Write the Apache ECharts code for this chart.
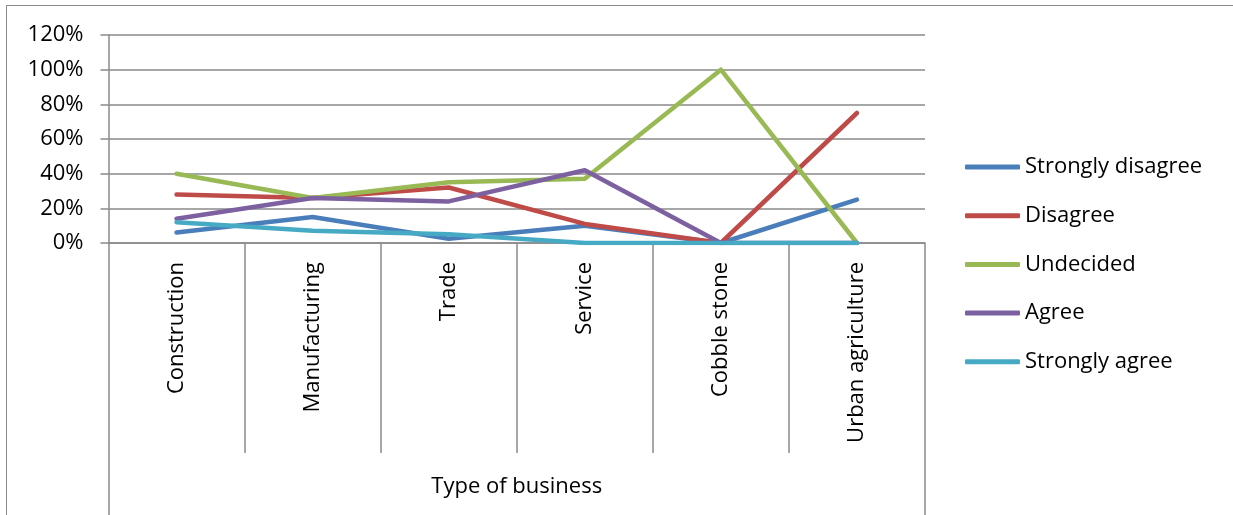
<!DOCTYPE html>
<html>
<head>
<meta charset="utf-8">
<script src="https://cdn.jsdelivr.net/npm/echarts@6/dist/echarts.min.js"></script>
<style>
  html, body { margin: 0; padding: 0; background: #fff; }
  #frame { position: absolute; left: 6px; top: 5px; width: 1300px; height: 600px; border: 1.5px solid #8a8a8a; box-sizing: border-box; }
  #chart { position: absolute; left: 0; top: 0; width: 1233px; height: 515px; }
</style>
</head>
<body>
<div id="frame"></div>
<div id="chart"></div>
<script>
const categories = ['Construction', 'Manufacturing', 'Trade', 'Service', 'Cobble stone', 'Urban agriculture'];
const axisTitle = ['Type of business'];
const seriesNames = ['Strongly disagree', 'Disagree', 'Undecided', 'Agree', 'Strongly agree'];
const stronglyDisagree = [6, 15, 2.5, 10, 0, 25];
const disagree = [28, 26, 32, 11, 0, 75];
const undecided = [40, 26, 35, 37, 100, 0];
const agree = [14, 26, 24, 42, 0, 0];
const stronglyAgree = [12, 7, 5, 0, 0, 0];
const colors = ['#4A7EBB', '#BE4B48', '#98B954', '#7D60A0', '#46AAC5'];

const seriesData = [stronglyDisagree, disagree, undecided, agree, stronglyAgree];
const FONT = 'Open Sans';
const GRAY = '#8a8a8a';

const chart = echarts.init(document.getElementById('chart'), null, { renderer: 'canvas' });
chart.setOption({
  animation: false,
  backgroundColor: 'transparent',
  color: colors,
  textStyle: { fontFamily: FONT },
  grid: { left: 108.5, right: 308, top: 35, bottom: 272, containLabel: false },
  legend: {
    orient: 'vertical',
    left: 965,
    top: 156,
    padding: 0,
    itemWidth: 55,
    itemHeight: 5,
    itemGap: 26.7,
    icon: 'roundRect',
    textStyle: { fontFamily: FONT, fontSize: 22, color: '#000' },
    data: seriesNames
  },
  xAxis: [
    {
      type: 'category',
      data: categories,
      boundaryGap: true,
      axisLine: { show: true, lineStyle: { color: GRAY, width: 1.5 } },
      axisTick: { show: true, interval: 0, length: 210, lineStyle: { color: GRAY, width: 1.5 } },
      axisLabel: { interval: 0, rotate: 90, margin: 19, fontFamily: FONT, fontSize: 22, color: '#000' },
      splitLine: { show: false }
    },
    {
      type: 'category',
      data: axisTitle,
      position: 'bottom',
      boundaryGap: true,
      axisLine: { show: false },
      axisTick: { show: true, interval: 0, length: 272, lineStyle: { color: GRAY, width: 1.5 } },
      axisLabel: { interval: 0, margin: 233, fontFamily: FONT, fontSize: 22, color: '#000' },
      splitLine: { show: false }
    }
  ],
  yAxis: {
    type: 'value',
    min: 0,
    max: 120,
    interval: 20,
    axisLine: { show: true, lineStyle: { color: GRAY, width: 1.5 } },
    axisTick: { show: true, length: 8, lineStyle: { color: GRAY, width: 1.5 } },
    axisLabel: { formatter: '{value}%', margin: 25, fontFamily: FONT, fontSize: 22, color: '#000' },
    splitLine: { show: true, lineStyle: { color: GRAY, width: 1.5 } }
  },
  series: seriesNames.map((name, i) => ({
    name: name,
    type: 'line',
    data: seriesData[i],
    showSymbol: false,
    symbol: 'none',
    lineStyle: { width: 4.5, color: colors[i], cap: 'round', join: 'round' },
    itemStyle: { color: colors[i] }
  }))
});
</script>
</body>
</html>
